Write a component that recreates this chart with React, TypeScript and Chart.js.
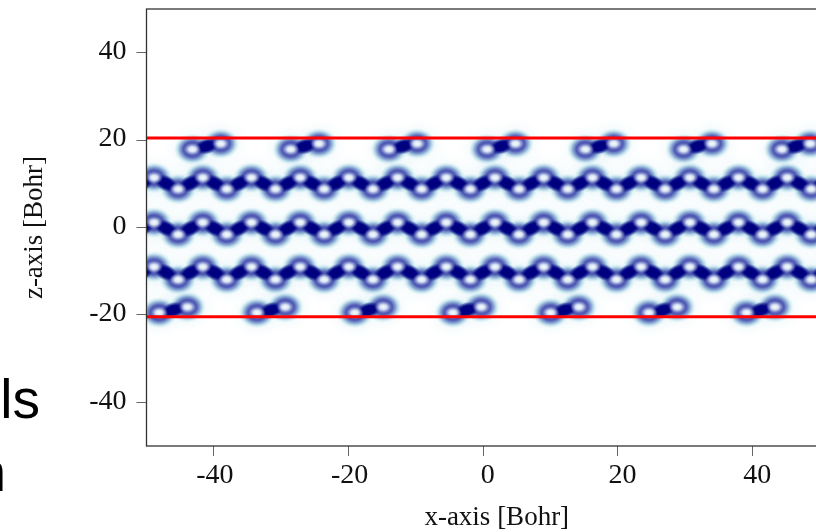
import React, { useEffect, useRef } from "react";
import { Chart, registerables } from "chart.js";

Chart.register(...registerables);

const xTicks = [-40, -20, 0, 20, 40];
const zTicks = [-40, -20, 0, 20, 40];
const xTitle = "    x-axis [Bohr]";
const zTitle = "z-axis [Bohr]";

// atom positions of the wavy layers
const crestX = [-48.87, -41.64, -34.41, -27.18, -19.94, -12.71, -5.48, 1.75, 8.98, 16.22, 23.45, 30.68, 37.91, 45.14, 52.37];
const troughX = [-52.54, -45.31, -38.08, -30.85, -23.62, -16.38, -9.15, -1.92, 5.31, 12.54, 19.78, 27.01, 34.24, 41.47, 48.7];
const downBondX = [-47.09, -39.86, -32.63, -25.4, -18.16, -10.93, -3.7, 3.53, 10.76, 17.99, 25.23, 32.46, 39.69, 46.92, 54.15];
const upBondX = [-50.7, -43.48, -36.25, -29.01, -21.78, -14.55, -7.32, -0.09, 7.15, 14.38, 21.61, 28.84, 36.07, 43.3, 50.5];
const crestZ = [11.4, 1.15, -9.0];
const troughZ = [8.8, -1.6, -11.9];
const bondZ = [10.1, -0.2, -10.3];

// atom pairs at the slab edges
const topLowX = [-43.18, -28.59, -14.01, 0.58, 15.17, 29.75, 44.34];
const topHighX = [-38.98, -24.39, -9.81, 4.78, 19.37, 33.95, 48.54];
const topBondX = [-41.08, -26.49, -11.91, 2.68, 17.27, 31.85, 46.44];
const botLowX = [-48.13, -33.6, -19.06, -4.5, 10.0, 24.6, 39.1];
const botHighX = [-43.92, -29.4, -14.85, -0.3, 14.2, 28.8, 43.3];
const botBondX = [-46.0, -31.5, -17.0, -2.4, 12.1, 26.7, 41.2];
const topLowZ = 17.9;
const topHighZ = 19.2;
const topBondZ = 18.6;
const botLowZ = -19.5;
const botHighZ = -18.2;
const botBondZ = -18.9;

const slabTop = 20.5;
const slabBottom = -20.45;
const xRange = [-50, 50];
const zRange = [-50, 50];

function ellipse(w: number, h: number, stops: [number, string][]) {
  const c = document.createElement("canvas");
  c.width = w;
  c.height = h;
  const g = c.getContext("2d")!;
  g.translate(w / 2, h / 2);
  g.scale(w / 2, h / 2);
  const grad = g.createRadialGradient(0, 0, 0, 0, 0, 1);
  stops.forEach(([o, col]) => grad.addColorStop(o, col));
  g.fillStyle = grad;
  g.beginPath();
  g.arc(0, 0, 1, 0, Math.PI * 2);
  g.fill();
  return c;
}

const cross = (xs: number[], zs: number[]) => zs.flatMap((z) => xs.map((x) => ({ x, y: z })));
const row = (xs: number[], z: number) => xs.map((x) => ({ x, y: z }));

export default function App() {
  const ref = useRef<HTMLCanvasElement>(null);
  useEffect(() => {
    const glow = ellipse(60, 52, [
      [0, "rgba(150,210,228,0.3)"],
      [0.5, "rgba(180,222,235,0.14)"],
      [1, "rgba(215,238,244,0)"],
    ]);
    const ring = ellipse(37, 31, [
      [0, "rgba(75,85,178,1)"],
      [0.5, "rgba(80,90,180,1)"],
      [0.68, "rgba(110,145,200,0.78)"],
      [0.85, "rgba(150,208,226,0.4)"],
      [1, "rgba(190,226,238,0)"],
    ]);
    const hole = ellipse(18, 13, [
      [0, "rgba(250,253,255,1)"],
      [0.4, "rgba(232,243,250,0.9)"],
      [0.72, "rgba(175,188,228,0.5)"],
      [1, "rgba(120,130,200,0)"],
    ]);
    const bondStops: [number, string][] = [
      [0, "rgba(0,0,125,1)"],
      [0.55, "rgba(0,0,130,1)"],
      [0.8, "rgba(20,30,140,0.6)"],
      [1, "rgba(60,80,170,0)"],
    ];
    const bond = ellipse(27, 16, bondStops);
    const edgeBond = ellipse(26, 16, bondStops);

    const atoms = [
      ...cross(crestX, crestZ),
      ...cross(troughX, troughZ),
      ...row(topLowX, topLowZ),
      ...row(topHighX, topHighZ),
      ...row(botLowX, botLowZ),
      ...row(botHighX, botHighZ),
    ];
    const pts = (data: any[], style: any, order: number, rotation = 0) => ({
      type: "scatter" as const,
      data,
      showLine: false,
      pointStyle: style,
      pointRadius: 32,
      pointRotation: rotation,
      order,
    });

    const frame = {
      id: "frame",
      afterDatasetsDraw(c: any) {
        const { left, top, width, height } = c.chartArea;
        const g = c.ctx;
        g.save();
        g.strokeStyle = "#333";
        g.lineWidth = 1.3;
        g.strokeRect(left, top, width, height);
        g.restore();
      },
    };
    const redLine = (z: number) => ({
      type: "line" as const,
      data: [
        { x: xRange[0], y: z },
        { x: xRange[1], y: z },
      ],
      borderColor: "#ff0000",
      borderWidth: 3,
      pointRadius: 0,
      order: 0,
    });
    const tickFont = { family: "'Liberation Serif', serif", size: 28 };
    const titleFont = { family: "'Liberation Serif', serif", size: 27 };
    const chart = new Chart(ref.current!, {
      type: "scatter",
      data: {
        datasets: [
          redLine(slabTop),
          redLine(slabBottom),
          pts(atoms, hole, 1),
          pts(cross(downBondX, bondZ), bond, 2, 26),
          pts(cross(upBondX, bondZ), bond, 2, -26),
          pts(row(topBondX, topBondZ), edgeBond, 2, -16),
          pts(row(botBondX, botBondZ), edgeBond, 2, -16),
          pts(atoms, ring, 3),
          pts(atoms, glow, 4),
        ] as any,
      },
      options: {
        animation: false,
        responsive: false,
        events: [],
        layout: { autoPadding: false, padding: { top: 9, right: 870 - 820, left: 0, bottom: 0 } },
        plugins: { legend: { display: false }, tooltip: { enabled: false } },
        scales: {
          x: {
            type: "linear",
            min: xRange[0],
            max: xRange[1],
            afterFit: (s: any) => {
              s.height = 532 - 446;
              s.paddingLeft = 0;
              s.paddingRight = 0;
            },
            afterBuildTicks: (s: any) => {
              s.ticks = xTicks.map((value) => ({ value }));
            },
            border: { display: false },
            grid: { drawOnChartArea: false, drawTicks: true, tickLength: 10, tickColor: "#666", tickWidth: 1 },
            ticks: {
              autoSkip: false,
              maxRotation: 0,
              color: "#111",
              font: tickFont,
              padding: 3,
              labelOffset: 1,
              callback: (v: any) => (Number(v) >= 0 ? " " + v : String(v)),
            },
            title: { display: true, text: xTitle, color: "#111", font: titleFont, padding: { top: 0, bottom: -2 } },
          },
          y: {
            type: "linear",
            min: zRange[0],
            max: zRange[1],
            afterFit: (s: any) => {
              s.width = 146.5;
              s.paddingTop = 0;
              s.paddingBottom = 0;
            },
            afterBuildTicks: (s: any) => {
              s.ticks = zTicks.map((value) => ({ value }));
            },
            border: { display: false },
            grid: { drawOnChartArea: false, drawTicks: true, tickLength: 10, tickColor: "#666", tickWidth: 1 },
            ticks: {
              autoSkip: false,
              color: "#111",
              font: tickFont,
              padding: 10,
              labelOffset: -1,
              callback: (v: any) => String(v),
            },
            title: { display: true, text: zTitle, color: "#111", font: titleFont, padding: { top: 19, bottom: 0 } },
          },
        },
      },
      plugins: [frame],
    } as any);
    return () => chart.destroy();
  }, []);

  const stray: React.CSSProperties = {
    position: "absolute",
    fontFamily: "'Liberation Sans', Arial, sans-serif",
    fontSize: 55,
    lineHeight: "56px",
    color: "#000",
    textAlign: "right",
    whiteSpace: "nowrap",
  };
  return (
    <div style={{ position: "fixed", left: 0, top: 0, width: 816, height: 532, overflow: "hidden", background: "#fff" }}>
      <canvas ref={ref} width={870} height={532} style={{ position: "absolute", left: 0, top: 0, width: 870, height: 532 }} />
      <div style={{ ...stray, right: 816 - 40, top: 371 }}>ls</div>
      <div style={{ ...stray, right: 816 - 6, top: 444 }}>n</div>
    </div>
  );
}
